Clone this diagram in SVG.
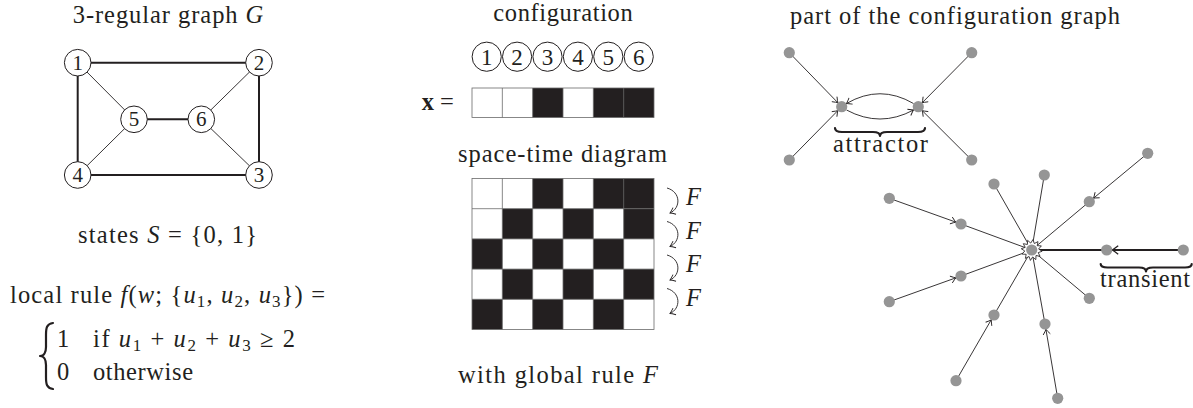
<svg xmlns="http://www.w3.org/2000/svg" width="1193" height="408" viewBox="0 0 1193 408">
<style>
.t{font-family:'Liberation Serif','DejaVu Serif',serif;font-size:24.5px;fill:#231f20}
.i{font-style:italic}
.sub{font-size:17px}
.nl{font-family:'Liberation Serif','DejaVu Serif',serif;font-size:21px;fill:#231f20;text-anchor:middle}
.cl{font-family:'Liberation Serif','DejaVu Serif',serif;font-size:23px;fill:#231f20;text-anchor:middle}
.thick{stroke:#231f20;stroke-width:2;fill:none}
.thin{stroke:#231f20;stroke-width:0.9;fill:none}
.gn{fill:#fff;stroke:#231f20;stroke-width:1}
.cn{fill:#959595}
.blk{fill:#231f20}
.grid{stroke:#6a6a6a;stroke-width:0.8;fill:none}
.brace{stroke:#231f20;stroke-width:2.2;fill:none;stroke-linejoin:round;stroke-linecap:round}
</style>
<defs>
<marker id="ah" viewBox="-6 -5 8 10" markerWidth="8" markerHeight="10" refX="0" refY="0" orient="auto" markerUnits="userSpaceOnUse">
<path d="M -5 -3.6 Q -1.5 -0.8 0 0 Q -1.5 0.8 -5 3.6" fill="none" stroke="#231f20" stroke-width="0.9"/>
</marker>
<marker id="ahb" viewBox="-7 -6 9 12" markerWidth="9" markerHeight="12" refX="0" refY="0" orient="auto" markerUnits="userSpaceOnUse">
<path d="M -6 -4.2 Q -1.8 -1 0 0 Q -1.8 1 -6 4.2" fill="none" stroke="#231f20" stroke-width="1.3"/>
</marker>
</defs>

<!-- Left panel: graph G -->
<text class="t" x="72.7" y="23.3" textLength="190.6">3-regular graph <tspan class="i">G</tspan></text>
<g id="graph-edges">
<line class="thick" x1="77.7" y1="62.7" x2="259" y2="62.7"/>
<line class="thick" x1="259" y1="62.7" x2="259" y2="175"/>
<line class="thick" x1="259" y1="175" x2="77.7" y2="175"/>
<line class="thick" x1="77.7" y1="175" x2="77.7" y2="62.7"/>
<line class="thick" x1="134" y1="119.3" x2="201.3" y2="119.3"/>
<line class="thin" x1="77.7" y1="62.7" x2="134" y2="119.3"/>
<line class="thin" x1="77.7" y1="175" x2="134" y2="119.3"/>
<line class="thin" x1="259" y1="62.7" x2="201.3" y2="119.3"/>
<line class="thin" x1="259" y1="175" x2="201.3" y2="119.3"/>
</g>
<g id="g1"><circle class="gn" cx="77.7" cy="62.7" r="13.3"/><text class="nl" x="77.7" y="69.8">1</text></g>
<g id="g2"><circle class="gn" cx="259" cy="62.7" r="13.3"/><text class="nl" x="259" y="69.8">2</text></g>
<g id="g3"><circle class="gn" cx="259" cy="175" r="13.3"/><text class="nl" x="259" y="182.1">3</text></g>
<g id="g4"><circle class="gn" cx="77.7" cy="175" r="13.3"/><text class="nl" x="77.7" y="182.1">4</text></g>
<g id="g5"><circle class="gn" cx="134" cy="119.3" r="13.3"/><text class="nl" x="134" y="126.4">5</text></g>
<g id="g6"><circle class="gn" cx="201.3" cy="119.3" r="13.3"/><text class="nl" x="201.3" y="126.4">6</text></g>

<text class="t" x="78" y="243" textLength="179">states <tspan class="i">S</tspan> = {0, 1}</text>
<text class="t" x="10" y="303" textLength="315">local rule <tspan class="i">f</tspan>(<tspan class="i">w</tspan>; {<tspan class="i">u</tspan><tspan class="sub" baseline-shift="-4">1</tspan>, <tspan class="i">u</tspan><tspan class="sub" baseline-shift="-4">2</tspan>, <tspan class="i">u</tspan><tspan class="sub" baseline-shift="-4">3</tspan>}) =</text>
<path class="brace" stroke-width="1.8" d="M 53 323 C 46.5 324 46 328 46 335 L 46 347 C 46 352 44 356 40 356 C 44 356 46 360 46 365 L 46 377 C 46 384 46.5 388 53 389"/>
<text class="t" x="57" y="347">1</text>
<text class="t" x="93" y="347" textLength="202">if <tspan class="i">u</tspan><tspan class="sub" baseline-shift="-4">1</tspan> + <tspan class="i">u</tspan><tspan class="sub" baseline-shift="-4">2</tspan> + <tspan class="i">u</tspan><tspan class="sub" baseline-shift="-4">3</tspan> ≥ 2</text>
<text class="t" x="57" y="380">0</text>
<text class="t" x="93" y="380" textLength="100">otherwise</text>

<!-- Middle panel -->
<text class="t" x="493.3" y="20.7" textLength="139.4">configuration</text>
<g id="circled">
<circle class="gn" cx="486.7" cy="56.7" r="14.6"/><text class="cl" x="486.7" y="64.6">1</text>
<circle class="gn" cx="517.1" cy="56.7" r="14.6"/><text class="cl" x="517.1" y="64.6">2</text>
<circle class="gn" cx="547.5" cy="56.7" r="14.6"/><text class="cl" x="547.5" y="64.6">3</text>
<circle class="gn" cx="577.9" cy="56.7" r="14.6"/><text class="cl" x="577.9" y="64.6">4</text>
<circle class="gn" cx="608.3" cy="56.7" r="14.6"/><text class="cl" x="608.3" y="64.6">5</text>
<circle class="gn" cx="638.7" cy="56.7" r="14.6"/><text class="cl" x="638.7" y="64.6">6</text>
</g>
<text class="t" x="421.7" y="110"><tspan font-weight="bold">x</tspan> =</text>
<g id="config-row">
<rect class="blk" x="532.67" y="88" width="30.33" height="29.5"/>
<rect class="blk" x="593.33" y="88" width="60.67" height="29.5"/>
<rect class="grid" x="472" y="88" width="182" height="29.5"/>
<path class="grid" d="M502.33 88V117.5M532.67 88V117.5M563 88V117.5M593.33 88V117.5M623.67 88V117.5"/>
</g>

<text class="t" x="458" y="161.7" textLength="209">space-time diagram</text>
<g id="spacetime">
<rect class="blk" x="532.67" y="178.5" width="30.33" height="30.2"/>
<rect class="blk" x="593.33" y="178.5" width="60.67" height="30.2"/>
<rect class="blk" x="502.33" y="208.7" width="30.33" height="30.2"/>
<rect class="blk" x="563" y="208.7" width="30.33" height="30.2"/>
<rect class="blk" x="623.67" y="208.7" width="30.33" height="30.2"/>
<rect class="blk" x="472" y="238.9" width="30.33" height="30.2"/>
<rect class="blk" x="532.67" y="238.9" width="30.33" height="30.2"/>
<rect class="blk" x="593.33" y="238.9" width="30.33" height="30.2"/>
<rect class="blk" x="502.33" y="269.1" width="30.33" height="30.2"/>
<rect class="blk" x="563" y="269.1" width="30.33" height="30.2"/>
<rect class="blk" x="623.67" y="269.1" width="30.33" height="30.2"/>
<rect class="blk" x="472" y="299.3" width="30.33" height="30.2"/>
<rect class="blk" x="532.67" y="299.3" width="30.33" height="30.2"/>
<rect class="blk" x="593.33" y="299.3" width="30.33" height="30.2"/>
<rect class="grid" x="472" y="178.5" width="182" height="151"/>
<path class="grid" d="M502.33 178.5V329.5M532.67 178.5V329.5M563 178.5V329.5M593.33 178.5V329.5M623.67 178.5V329.5M472 208.7H654M472 238.9H654M472 269.1H654M472 299.3H654"/>
</g>
<g id="F-arrows">
<path class="thin" marker-end="url(#ah)" d="M 667 188 C 681 192 681 208 670 213"/>
<path class="thin" marker-end="url(#ah)" d="M 667 221.5 C 681 225.5 681 241.5 670 246.5"/>
<path class="thin" marker-end="url(#ah)" d="M 667 255 C 681 259 681 275 670 280"/>
<path class="thin" marker-end="url(#ah)" d="M 667 288.5 C 681 292.5 681 308.5 670 313.5"/>
</g>
<text class="t i" x="686" y="205" font-size="22">F</text>
<text class="t i" x="686" y="238.5" font-size="22">F</text>
<text class="t i" x="686" y="272" font-size="22">F</text>
<text class="t i" x="686" y="305.5" font-size="22">F</text>
<text class="t" x="458" y="383" textLength="200">with global rule <tspan class="i">F</tspan></text>

<!-- Right panel -->
<text class="t" x="790" y="24" textLength="330">part of the configuration graph</text>
<g id="connectors">
<line class="thin" x1="789.3" y1="52.7" x2="837.9" y2="102.75" marker-end="url(#ah)"/>
<line class="thin" x1="789.3" y1="160" x2="837.84" y2="110.62" marker-end="url(#ah)"/>
<line class="thin" x1="971.7" y1="52.7" x2="922.17" y2="102.79" marker-end="url(#ah)"/>
<line class="thin" x1="971.7" y1="160" x2="922.2" y2="110.6" marker-end="url(#ah)"/>
<path class="thin" d="M 913.5 103.5 Q 880 84 846.5 103.5" marker-end="url(#ah)"/>
<path class="thin" d="M 846.5 110 Q 880 128 913.5 110" marker-end="url(#ah)"/>

<line class="thin" x1="1147.7" y1="153.3" x2="1093.53" y2="198.19" marker-end="url(#ah)"/>
<line class="thin" x1="889.3" y1="198.3" x2="955.82" y2="222.14" marker-end="url(#ah)"/>
<line class="thin" x1="889.3" y1="301.7" x2="955.82" y2="277.86" marker-end="url(#ah)"/>
<line class="thin" x1="956" y1="380.7" x2="991.25" y2="319.76" marker-end="url(#ah)"/>
<line class="thin" x1="1057.7" y1="398.3" x2="1045.93" y2="329.42" marker-end="url(#ah)"/>
<line class="thick" x1="1183.3" y1="250" x2="1112.2" y2="250" marker-end="url(#ahb)"/>

<line class="thin" x1="1089.3" y1="201.7" x2="1031.7" y2="250"/>
<line class="thin" x1="1044.3" y1="175" x2="1031.7" y2="250"/>
<line class="thin" x1="994" y1="184" x2="1031.7" y2="250"/>
<line class="thin" x1="961" y1="224" x2="1031.7" y2="250"/>
<line class="thin" x1="961" y1="276" x2="1031.7" y2="250"/>
<line class="thin" x1="994" y1="315" x2="1031.7" y2="250"/>
<line class="thin" x1="1045" y1="324" x2="1031.7" y2="250"/>
<line class="thin" x1="1089.3" y1="298.3" x2="1031.7" y2="250"/>
<line class="thick" x1="1106.7" y1="250" x2="1031.7" y2="250"/>
</g>
<polygon transform="translate(1031.7 250) rotate(7)" fill="#fff" stroke="#231f20" stroke-width="0.8" points="10.5,0 6.76,1.81 9.09,5.25 4.95,4.95 5.25,9.09 1.81,6.76 0,10.5 -1.81,6.76 -5.25,9.09 -4.95,4.95 -9.09,5.25 -6.76,1.81 -10.5,0 -6.76,-1.81 -9.09,-5.25 -4.95,-4.95 -5.25,-9.09 -1.81,-6.76 0,-10.5 1.81,-6.76 5.25,-9.09 4.95,-4.95 9.09,-5.25 6.76,-1.81"/>
<g id="cnodes">
<circle id="a-tl" class="cn" cx="789.3" cy="52.7" r="5.6"/>
<circle id="a-bl" class="cn" cx="789.3" cy="160" r="5.6"/>
<circle id="a-tr" class="cn" cx="971.7" cy="52.7" r="5.6"/>
<circle id="a-br" class="cn" cx="971.7" cy="160" r="5.6"/>
<circle id="a-l" class="cn" cx="841.7" cy="106.7" r="5.6"/>
<circle id="a-r" class="cn" cx="918.3" cy="106.7" r="5.6"/>
<circle id="s-c" class="cn" cx="1031.7" cy="250" r="5.6"/>
<circle id="s1" class="cn" cx="1147.7" cy="153.3" r="5.6"/>
<circle id="s2" class="cn" cx="1089.3" cy="201.7" r="5.6"/>
<circle id="s3" class="cn" cx="1044.3" cy="175" r="5.6"/>
<circle id="s4" class="cn" cx="994" cy="184" r="5.6"/>
<circle id="s5" class="cn" cx="889.3" cy="198.3" r="5.6"/>
<circle id="s6" class="cn" cx="961" cy="224" r="5.6"/>
<circle id="s7" class="cn" cx="1106.7" cy="250" r="5.6"/>
<circle id="s8" class="cn" cx="1183.3" cy="250" r="5.6"/>
<circle id="s9" class="cn" cx="961" cy="276" r="5.6"/>
<circle id="s10" class="cn" cx="889.3" cy="301.7" r="5.6"/>
<circle id="s11" class="cn" cx="1089.3" cy="298.3" r="5.6"/>
<circle id="s12" class="cn" cx="994" cy="315" r="5.6"/>
<circle id="s13" class="cn" cx="1045" cy="324" r="5.6"/>
<circle id="s14" class="cn" cx="956" cy="380.7" r="5.6"/>
<circle id="s15" class="cn" cx="1057.7" cy="398.3" r="5.6"/>
</g>
<path class="brace" d="M 835 128 C 835 131 837 132 842 132 L 873 132 C 877.5 132 880 133.5 880 136 C 880 133.5 882.5 132 887 132 L 918 132 C 923 132 925 131 925 128"/>
<text class="t" x="833" y="151.7" textLength="95">attractor</text>
<path class="brace" d="M 1100.7 264 C 1100.7 266.5 1102.5 267.5 1107.5 267.5 L 1139 267.5 C 1143.5 267.5 1146 269 1146 271.5 C 1146 269 1148.5 267.5 1153 267.5 L 1185 267.5 C 1190 267.5 1191.7 266.5 1191.7 264"/>
<text class="t" x="1100" y="287" textLength="90">transient</text>
</svg>
